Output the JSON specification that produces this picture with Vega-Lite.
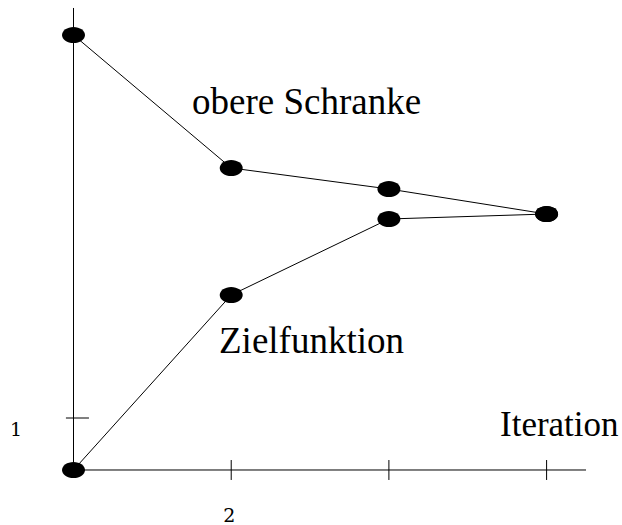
{
  "$schema": "https://vega.github.io/schema/vega-lite/v6.json",
  "width": 622,
  "height": 525,
  "padding": 0,
  "autosize": "none",
  "background": "white",
  "config": {"view": {"stroke": null}},
  "datasets": {
    "bounds": [
      {"bound": "obere Schranke", "iteration": 1, "value": 8.365},
      {"bound": "obere Schranke", "iteration": 2, "value": 5.808},
      {"bound": "obere Schranke", "iteration": 3, "value": 5.404},
      {"bound": "obere Schranke", "iteration": 4, "value": 4.923},
      {"bound": "Zielfunktion", "iteration": 1, "value": 0},
      {"bound": "Zielfunktion", "iteration": 2, "value": 3.365},
      {"bound": "Zielfunktion", "iteration": 3, "value": 4.827},
      {"bound": "Zielfunktion", "iteration": 4, "value": 4.923}
    ],
    "axes": [
      {"part": "y axis", "x": 1, "x2": 1, "y": 0, "y2": 8.885},
      {"part": "x axis", "x": 1, "x2": 4.25, "y": 0, "y2": 0},
      {"part": "x tick 2", "x": 2, "x2": 2, "y": -0.192, "y2": 0.192},
      {"part": "x tick 3", "x": 3, "x2": 3, "y": -0.192, "y2": 0.192},
      {"part": "x tick 4", "x": 4, "x2": 4, "y": -0.192, "y2": 0.192},
      {"part": "y tick 1", "x": 0.952, "x2": 1.098, "y": 1, "y2": 1}
    ],
    "labels": [
      {"text": "obere Schranke", "x": 1.7514, "y": 6.846},
      {"text": "Zielfunktion", "x": 1.9226, "y": 2.25}
    ],
    "axistitle": [
      {"text": "Iteration", "x": 3.7045, "y": 0.654}
    ],
    "ticklabels": [
      {"text": "1", "x": 0.5973, "y": 0.654},
      {"text": "2", "x": 1.949, "y": -1.0}
    ]
  },
  "layer": [
    {
      "data": {"name": "axes"},
      "mark": {"type": "rule", "color": "black", "strokeWidth": 1},
      "encoding": {
        "x": {"field": "x", "type": "quantitative", "scale": {"domain": [0.5339, 4.4781], "nice": false, "zero": false}, "axis": null},
        "x2": {"field": "x2"},
        "y": {"field": "y", "type": "quantitative", "scale": {"domain": [-1.0577, 9.0385], "nice": false, "zero": false}, "axis": null},
        "y2": {"field": "y2"}
      }
    },
    {
      "data": {"name": "bounds"},
      "mark": {"type": "line", "color": "black", "strokeWidth": 1},
      "encoding": {
        "x": {"field": "iteration", "type": "quantitative"},
        "y": {"field": "value", "type": "quantitative"},
        "detail": {"field": "bound"},
        "order": {"field": "iteration"}
      }
    },
    {
      "data": {"name": "bounds"},
      "mark": {
        "type": "point",
        "filled": true,
        "color": "black",
        "opacity": 1,
        "size": 529,
        "shape": "M-1,0A1,0.7 0 1,0 1,0A1,0.7 0 1,0 -1,0Z"
      },
      "encoding": {
        "x": {"field": "iteration", "type": "quantitative"},
        "y": {"field": "value", "type": "quantitative"}
      }
    },
    {
      "data": {"name": "labels"},
      "mark": {"type": "text", "font": "'Liberation Serif', 'Times New Roman', Times, serif", "fontSize": 37, "align": "left", "baseline": "alphabetic", "color": "black"},
      "encoding": {
        "x": {"field": "x", "type": "quantitative"},
        "y": {"field": "y", "type": "quantitative"},
        "text": {"field": "text"}
      }
    },
    {
      "data": {"name": "axistitle"},
      "mark": {"type": "text", "font": "'Liberation Serif', 'Times New Roman', Times, serif", "fontSize": 35, "align": "left", "baseline": "alphabetic", "color": "black"},
      "encoding": {
        "x": {"field": "x", "type": "quantitative"},
        "y": {"field": "y", "type": "quantitative"},
        "text": {"field": "text"}
      }
    },
    {
      "data": {"name": "ticklabels"},
      "mark": {"type": "text", "font": "'DejaVu Serif', 'Liberation Serif', serif", "fontSize": 19, "align": "left", "baseline": "alphabetic", "color": "black"},
      "encoding": {
        "x": {"field": "x", "type": "quantitative"},
        "y": {"field": "y", "type": "quantitative"},
        "text": {"field": "text"}
      }
    }
  ]
}
